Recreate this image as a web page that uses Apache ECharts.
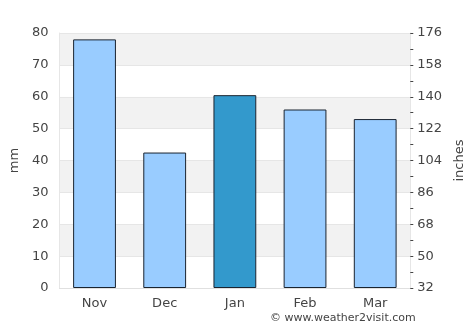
<!DOCTYPE html>
<html><head><meta charset="utf-8">
<script src="https://cdn.jsdelivr.net/npm/echarts@6/dist/echarts.min.js"></script>
<style>html,body{margin:0;padding:0;background:#fff}#c{width:474px;height:331px}</style>
</head><body><div id="c"></div>
<script>
const categories = ['Nov', 'Dec', 'Jan', 'Feb', 'Mar'];
const rainfallMm = [78, 42.5, 60.5, 56, 53];
const highlightIndex = 2;
const leftTicks = [0, 80, 10];
const rightTicks = [32, 176, 18];

const chart = echarts.init(document.getElementById('c'), null, {renderer: 'canvas'});
const font = 'DejaVu Sans';
chart.setOption({
  animation: false,
  grid: {left: 57, right: 62, top: 33, bottom: 43},
  xAxis: {
    type: 'category', data: categories,
    axisLine: {show: true, lineStyle: {color: '#e0e0e0'}},
    axisTick: {show: false},
    axisLabel: {color: '#444', fontFamily: font, fontSize: 13, margin: 9}
  },
  yAxis: [{
    type: 'value', min: leftTicks[0], max: leftTicks[1], interval: leftTicks[2],
    name: 'mm', nameLocation: 'middle', nameGap: 28,
    nameTextStyle: {color: '#444', fontFamily: font, fontSize: 13},
    axisLine: {show: true, lineStyle: {color: '#e6e6e6'}},
    axisTick: {show: false},
    axisLabel: {color: '#444', fontFamily: font, fontSize: 13, margin: 11},
    splitLine: {show: true, lineStyle: {color: '#e6e6e6'}},
    splitArea: {show: true, areaStyle: {color: ['#ffffff', '#f2f2f2']}}
  }, {
    type: 'value', min: rightTicks[0], max: rightTicks[1], interval: rightTicks[2],
    name: 'inches', nameLocation: 'middle', nameGap: 32,
    nameTextStyle: {color: '#444', fontFamily: font, fontSize: 13},
    axisLine: {show: true, lineStyle: {color: '#e6e6e6'}},
    axisTick: {show: true, inside: false, length: 3, lineStyle: {color: '#444'}},
    minorTick: {show: true, splitNumber: 2, length: 3, lineStyle: {color: '#444'}},
    axisLabel: {color: '#444', fontFamily: font, fontSize: 13, margin: 7},
    splitLine: {show: false}
  }],
  series: [{
    type: 'bar', yAxisIndex: 0, barWidth: '61%',
    data: rainfallMm.map((v, i) => ({
      value: v,
      itemStyle: {color: i === highlightIndex ? '#3399cc' : '#99ccff'}
    })),
    itemStyle: {borderColor: '#1a2430', borderWidth: 1}
  }],
  graphic: [{
    type: 'text', left: 270, top: 313,
    style: {text: '© www.weather2visit.com', fill: '#444', font: '11px DejaVu Sans'}
  }]
});
</script></body></html>
